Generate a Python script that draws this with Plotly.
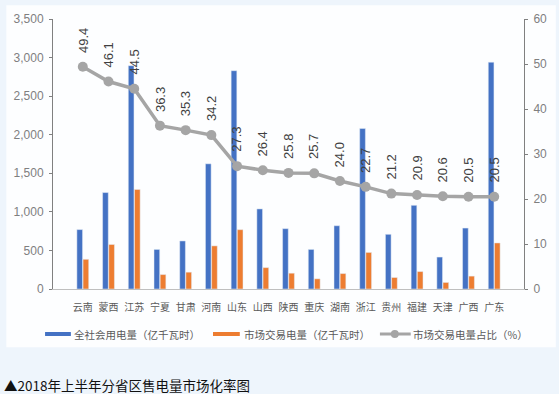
import plotly.graph_objects as go

provinces = ["云南", "蒙西", "江苏", "宁夏", "甘肃", "河南", "山东", "山西", "陕西",
             "重庆", "湖南", "浙江", "贵州", "福建", "天津", "广西", "广东"]
total_use = [770, 1250, 2895, 513, 623, 1623, 2830, 1038, 782,
             513, 820, 2080, 709, 1085, 414, 790, 2940]
market_trade = [385, 577, 1290, 187, 218, 559, 769, 277, 205,
                132, 200, 474, 149, 226, 85, 167, 597]
market_share = [49.4, 46.1, 44.5, 36.3, 35.3, 34.2, 27.3, 26.4, 25.8,
                25.7, 24.0, 22.7, 21.2, 20.9, 20.6, 20.5, 20.5]

legend_names = ["全社会用电量（亿千瓦时）", "市场交易电量（亿千瓦时）", "市场交易电量占比（%）"]
caption = "▲2018年上半年分省区售电量市场化率图"

BLUE = "#4472c4"
ORANGE = "#ed7d31"
GRAY = "#a5a5a5"
CJK = "Noto Sans CJK SC"
BG = "#eef5fc"

W, H = 559, 394
L, R, T, B = 53, 32, 16, 105
PW, PH = W - L - R, H - T - B

def px(x):
    return (x - L) / PW

def py(y):
    return (H - B - y) / PH

fig = go.Figure()
fig.add_trace(go.Bar(x=provinces, y=total_use, name=legend_names[0],
                     marker_color=BLUE, yaxis="y"))
fig.add_trace(go.Bar(x=provinces, y=market_trade, name=legend_names[1],
                     marker_color=ORANGE, yaxis="y"))
fig.add_trace(go.Scatter(x=provinces, y=market_share, name=legend_names[2],
                         mode="lines+markers", yaxis="y2",
                         line=dict(color=GRAY, width=3.5),
                         marker=dict(color=GRAY, size=10)))

annotations = []
for p, v in zip(provinces, market_share):
    annotations.append(dict(x=p, y=v, xref="x", yref="y2", text=f"{v:.1f}",
                            textangle=-90, showarrow=False, yanchor="bottom",
                            xanchor="center", yshift=12,
                            font=dict(family="Liberation Sans, Arial", size=13,
                                      color="#404040")))

# legend (manual)
leg_y = py(334.5)
shapes = [
    dict(type="rect", xref="paper", yref="paper", x0=px(6), x1=px(559),
         y0=py(348), y1=py(2), fillcolor="#fdfeff", line=dict(width=0),
         layer="below"),
    dict(type="rect", xref="paper", yref="paper", x0=px(45), x1=px(71),
         y0=py(336.5), y1=py(332.5), fillcolor=BLUE, line=dict(width=0)),
    dict(type="rect", xref="paper", yref="paper", x0=px(214), x1=px(241),
         y0=py(336.5), y1=py(332.5), fillcolor=ORANGE, line=dict(width=0)),
    dict(type="line", xref="paper", yref="paper", x0=px(382), x1=px(413),
         y0=leg_y, y1=leg_y, line=dict(color=GRAY, width=3)),
    dict(type="circle", xref="paper", yref="paper", x0=px(393), x1=px(401),
         y0=py(338.5), y1=py(330.5), fillcolor=GRAY, line=dict(width=0)),
]
for xpos, name in zip([72, 243, 413], legend_names):
    annotations.append(dict(x=px(xpos), y=leg_y, xref="paper", yref="paper",
                            text=name, showarrow=False, xanchor="left",
                            yanchor="middle",
                            font=dict(family=CJK, size=10.5, color="#595959")))

annotations.append(dict(x=px(2), y=py(386), xref="paper", yref="paper",
                        text=caption, showarrow=False, xanchor="left",
                        yanchor="middle",
                        font=dict(family=CJK, size=13.5, color="#111111")))

fig.update_layout(
    width=W, height=H,
    margin=dict(l=L, r=R, t=T, b=B),
    paper_bgcolor=BG,
    plot_bgcolor="rgba(0,0,0,0)",
    showlegend=False,
    barmode="group",
    bargap=0.52,
    bargroupgap=0.08,
    font=dict(family=CJK, color="#595959"),
    xaxis=dict(showline=True, linecolor="#bfbfbf", linewidth=1,
               ticks="", tickfont=dict(size=10, color="#595959"),
               ticklabelstandoff=9, showgrid=False),
    yaxis=dict(range=[0, 3500], dtick=500, tickformat=",",
               showline=True, linecolor="#808080", linewidth=1,
               ticks="outside", ticklen=3, tickcolor="#808080",
               ticklabelstandoff=3,
               showgrid=False, zeroline=False,
               tickfont=dict(family="Liberation Sans, Arial", size=12,
                             color="#7f7f7f")),
    yaxis2=dict(range=[0, 60], dtick=10, overlaying="y", side="right",
                showline=True, linecolor="#808080", linewidth=1,
                ticks="outside", ticklen=3, tickcolor="#808080",
                ticklabelstandoff=3,
                showgrid=False, zeroline=False,
                tickfont=dict(family="Liberation Sans, Arial", size=12,
                              color="#7f7f7f")),
    shapes=shapes,
    annotations=annotations,
)

fig.write_html(
    "out.html",
    config={"displayModeBar": False},
    post_script=("document.body.style.margin='0';"
                 "document.body.style.background='" + BG + "';"),
)
